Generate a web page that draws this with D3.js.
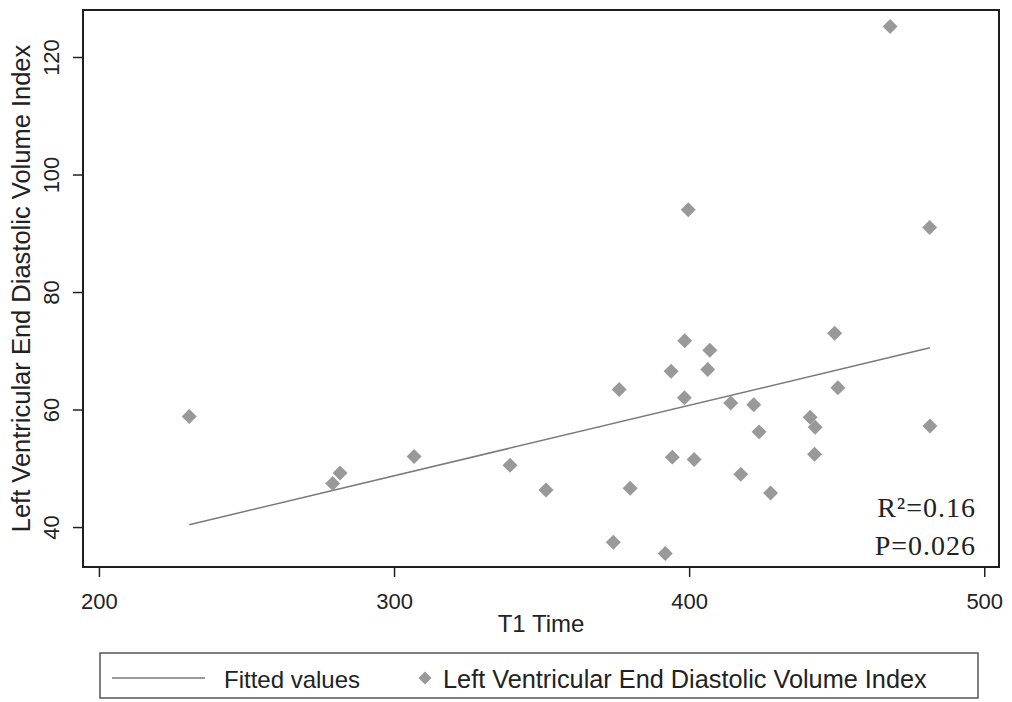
<!DOCTYPE html>
<html>
<head>
<meta charset="utf-8">
<script src="https://cdn.jsdelivr.net/npm/d3@7"></script>
<style>
  body { margin: 0; background: #fff; }
  text { font-family: "Liberation Sans", Arial, sans-serif; fill: #222; }
</style>
</head>
<body>
<div id="viz"></div>
<script>
const width = 1012,
    height = 702,
    margin = { top: 10, right: 13, bottom: 135, left: 83 };

// T1 time vs LVEDVI
const t1Time = [230.6, 279.2, 281.7, 306.8, 339.3, 351.5, 374.3, 376.3, 380.0, 391.9,
    393.9, 394.3, 398.4, 398.5, 399.7, 401.7, 406.3, 407.0, 414.1, 417.5,
    421.9, 423.7, 427.6, 441.0, 442.5, 442.7, 449.3, 450.4, 468.1, 481.5, 481.6];
const lvedvi = [58.8, 47.4, 49.2, 52.0, 50.5, 46.3, 37.4, 63.4, 46.6, 35.5,
    66.5, 51.9, 62.0, 71.7, 94.0, 51.5, 66.8, 70.1, 61.1, 49.0,
    60.8, 56.2, 45.8, 58.7, 52.4, 57.0, 73.0, 63.7, 125.2, 91.0, 57.2];

// fitted line end points
const fitX = [230.6, 481.6];
const fitY = [40.4, 70.5];

const xTicks = [200, 300, 400, 500];
const yTicks = [40, 60, 80, 100, 120];

const statLines = ["R\u00B2=0.16", "P=0.026"];
const legendLabels = ["Fitted values", "Left Ventricular End Diastolic Volume Index"];

const innerW = width - margin.left - margin.right,
    innerH = height - margin.top - margin.bottom;

const x = d3.scaleLinear().domain([194.6, 505]).range([0, innerW]);
const y = d3.scaleLinear().domain([33.2, 128]).range([innerH, 0]);

const svg = d3.select("#viz").append("svg")
    .attr("width", width)
    .attr("height", height);

const g = svg.append("g")
    .attr("transform", "translate(" + margin.left + "," + margin.top + ")");

// axes
const xAxis = g.append("g")
    .attr("transform", "translate(0," + innerH + ")")
    .call(d3.axisBottom(x).tickValues(xTicks).tickSize(10));

xAxis.select(".domain").remove();
xAxis.selectAll("line").attr("stroke", "#222").attr("stroke-width", 1.5);
xAxis.selectAll("text")
    .attr("y", 42)
    .attr("dy", null)
    .style("font-size", "22px")
    .style("font-family", "Liberation Sans, Arial, sans-serif")
    .attr("fill", "#222");

const yAxis = g.append("g")
    .call(d3.axisLeft(y).tickValues(yTicks).tickSize(10));

yAxis.select(".domain").remove();
yAxis.selectAll("line").attr("stroke", "#222").attr("stroke-width", 1.5);
yAxis.selectAll("text")
    .attr("x", 0)
    .attr("y", -24)
    .attr("dy", null)
    .attr("transform", "rotate(-90)")
    .style("text-anchor", "middle")
    .style("font-size", "22px")
    .style("font-family", "Liberation Sans, Arial, sans-serif")
    .attr("fill", "#222");

// axis titles
g.append("text")
    .attr("x", innerW / 2)
    .attr("y", innerH + 65)
    .attr("text-anchor", "middle")
    .style("font-size", "24px")
    .text("T1 Time");

g.append("text")
    .attr("transform", "rotate(-90)")
    .attr("x", -innerH / 2)
    .attr("y", -53)
    .attr("text-anchor", "middle")
    .style("font-size", "25.5px")
    .text(legendLabels[1]);

// fitted line
const line = d3.line()
    .x((d, i) => x(fitX[i]))
    .y(d => y(d));

g.append("path")
    .datum(fitY)
    .attr("d", line)
    .attr("fill", "none")
    .attr("stroke", "#7a7a7a")
    .attr("stroke-width", 1.5);

// points
const diamond = d3.symbol().type(d3.symbolSquare).size(112);

g.selectAll(".pt")
    .data(t1Time)
    .enter().append("path")
    .attr("class", "pt")
    .attr("d", diamond)
    .attr("transform", (d, i) => "translate(" + x(d) + "," + y(lvedvi[i]) + ") rotate(45)")
    .attr("fill", "#999999");

// frame
g.append("rect")
    .attr("width", innerW)
    .attr("height", innerH)
    .attr("fill", "none")
    .attr("stroke", "#1e1e1e")
    .attr("stroke-width", 2);

// stats
g.selectAll(".stat")
    .data(statLines)
    .enter().append("text")
    .attr("class", "stat")
    .attr("x", innerW - 23)
    .attr("y", (d, i) => 507 + i * 38)
    .attr("text-anchor", "end")
    .style("font-family", "Liberation Serif, Times New Roman, serif")
    .style("font-size", "28px")
    .style("letter-spacing", "1px")
    .text(d => d);

// legend
const legend = svg.append("g").attr("transform", "translate(100,653)");

legend.append("rect")
    .attr("width", 878)
    .attr("height", 45)
    .attr("fill", "#fff")
    .attr("stroke", "#555")
    .attr("stroke-width", 1.5);

legend.append("line")
    .attr("x1", 12).attr("x2", 105)
    .attr("y1", 25).attr("y2", 25)
    .attr("stroke", "#7a7a7a")
    .attr("stroke-width", 1.5);

legend.append("text")
    .attr("x", 124)
    .attr("y", 35)
    .style("font-size", "24px")
    .text(legendLabels[0]);

legend.append("path")
    .attr("d", d3.symbol().type(d3.symbolSquare).size(85))
    .attr("transform", "translate(325,25) rotate(45)")
    .attr("fill", "#999999");

legend.append("text")
    .attr("x", 343)
    .attr("y", 35)
    .style("font-size", "25.3px")
    .text(legendLabels[1]);
</script>
</body>
</html>
